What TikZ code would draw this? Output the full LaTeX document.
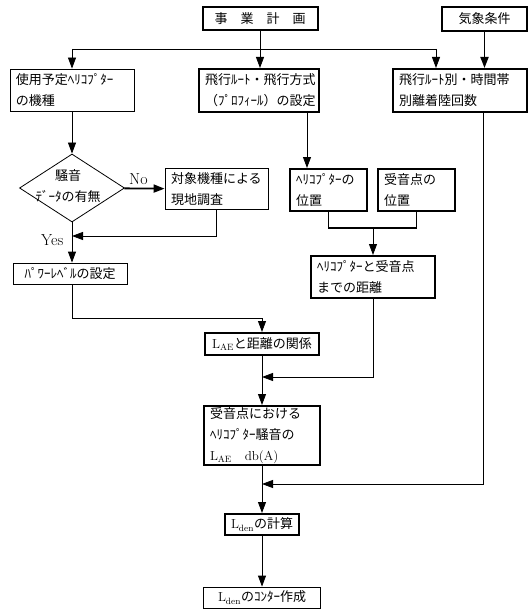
\documentclass[tikz,border=0pt]{standalone}
\usepackage{fontspec}
\newfontfamily\jp{Noto Sans CJK JP}
\usetikzlibrary{arrows.meta,shapes.geometric}

\begin{document}
\begin{tikzpicture}[x=1pt,y=-1pt,
					b/.append style={draw,line width=.8pt,font=\jp\fontsize{13}{21}\selectfont,inner sep=0pt},
					tb/.append style={b,line width=2pt},
					ml/.append style={align=left,inner xsep=6pt},
					dia/.append style={draw,diamond,line width=.8pt,minimum width=105pt,minimum height=68pt,inner sep=0pt},
					lab/.append style={font=\rmfamily\fontsize{16}{18}\selectfont},
					a/.append style={-{Triangle[length=11pt,width=8pt]},line width=.8pt},
					ta/.append style={a,line width=1.8pt}]
\useasboundingbox (0,0) rectangle (531,615);
\node[tb,minimum width=115pt,minimum height=23pt] (plan) at (260,18.5) {事　業　計　画};
\node[tb,minimum width=85pt,minimum height=24pt] (kisho) at (484.5,19) {気象条件};
\node[b,ml,text width=112pt,minimum height=42pt] (kishu) at (72,90) {使用予定ﾍﾘｺﾌﾟﾀｰ\\の機種};
\node[tb,ml,text width=108pt,minimum height=43pt] (route) at (259,90.5) {飛行ﾙｰﾄ・飛行方式\\（ﾌﾟﾛﾌｨｰﾙ）の設定};
\node[tb,ml,text width=122pt,minimum height=43pt] (kaisu) at (460,90.5) {飛行ﾙｰﾄ別・時間帯\\別離着陸回数};
\node[dia] (umu) at (72,188) {};
\node[font=\jp\fontsize{13}{21}\selectfont,align=center,inner sep=0pt] (umut) at (68,186) {騒音\\ﾃﾞｰﾀの有無};
\node[b,ml,text width=91pt,minimum height=41pt] (chosa) at (216.5,189) {対象機種による\\現地調査};
\node[b,minimum width=114pt,minimum height=21pt] (power) at (70,273.5) {ﾊﾟﾜｰﾚﾍﾞﾙの設定};
\node[tb,ml,text width=65pt,minimum height=42pt] (heli) at (328.5,190) {ﾍﾘｺﾌﾟﾀｰの\\位置};
\node[tb,ml,text width=65pt,minimum height=42pt] (juon) at (416.5,190) {受音点の\\位置};
\node[tb,ml,text width=112pt,minimum height=42pt] (kyori) at (373,277) {ﾍﾘｺﾌﾟﾀｰと受音点\\までの距離};
\node[tb,minimum width=114pt,minimum height=22pt] (kankei) at (262,344) {$\mathrm{L}_{\mathrm{AE}}$と距離の関係};
\node[tb,ml,text width=104pt,minimum height=59pt] (lae) at (262,435.5) {受音点における\\ﾍﾘｺﾌﾟﾀｰ騒音の\\$\mathrm{L}_{\mathrm{AE}}$\quad{\rmfamily db(A)}};
\node[tb,minimum width=74pt,minimum height=21pt] (keisan) at (262,524.5) {$\mathrm{L}_{\mathrm{den}}$の計算};
\node[b,minimum width=117pt,minimum height=21pt] (contour) at (262,597.5) {$\mathrm{L}_{\mathrm{den}}$のｺﾝﾀｰ作成};
\coordinate (s1) at (72,49);
\coordinate (s2) at (436,49);
\coordinate (j1) at (72,236);
\coordinate (j2) at (262,318);
\coordinate (j3) at (373,228);
\coordinate (j4) at (262,377);
\coordinate (j5) at (262,484);
\draw[line width=.8pt] (s1) -- (s2);
\draw[a] (plan) -- (plan |- route.north);
\draw[a] (s1) -- (kishu);
\draw[a] (s2) -- (s2 |- kaisu.north);
\draw[ta] (kisho) -- (kisho |- kaisu.north);
\draw[a] (kishu) -- (umu);
\draw[ta] (umu) -- node[above,lab,pos=.35] {No} (chosa);
\draw[a] (chosa) |- (j1);
\draw[a] (umu) -- node[left=5pt,lab,pos=.45] {Yes} (power.north -| umu);
\draw[a] (power.south -| umu) |- (j2) -- (kankei);
\draw[a] ([xshift=-13pt]route.south east) -- ([xshift=-13pt]route.south east |- heli.north);
\draw[line width=1.4pt] (heli) |- (j3) -| (juon);
\draw[a] (j3) -- (kyori);
\draw[a] (kyori) |- (j4);
\draw[a] (kankei) -- (lae);
\draw[a] ([xshift=-45pt]kaisu.south east) |- (j5);
\draw[a] (lae) -- (keisan);
\draw[a] (keisan) -- (contour);
\end{tikzpicture}
\end{document}
